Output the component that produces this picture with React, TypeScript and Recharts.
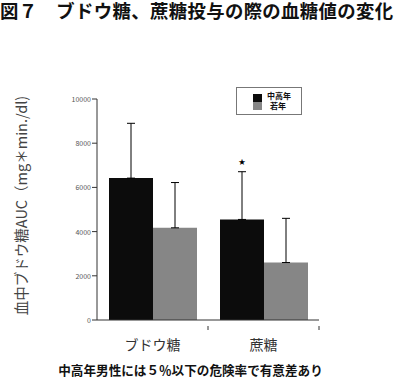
import React from 'react';
import { BarChart, Bar, XAxis, YAxis, ErrorBar, LabelList } from 'recharts';

const categories = ['ブドウ糖', '蔗糖'];
const middleAged = [6420, 4550];
const middleAgedErr = [2480, 2160];
const young = [4170, 2600];
const youngErr = [2050, 2000];
const significance = ['', '★'];
const yTicks = [0, 2000, 4000, 6000, 8000, 10000];
const seriesNames = ['中高年', '若年'];

const data = categories.map((name, i) => ({
  name,
  mid: middleAged[i],
  midErr: [0, middleAgedErr[i]],
  young: young[i],
  youngErr: [0, youngErr[i]],
  sig: significance[i],
}));

const FONT = '"Noto Sans CJK JP", "Noto Sans", sans-serif';
const BLACK = '#0c0c0c';
const GRAY = '#868686';

const XTick = (props: any) => {
  const { x, y, payload, width, visibleTicksCount } = props;
  const off = payload && payload.offset ? payload.offset : width / (2 * visibleTicksCount);
  return (
    <g>
      <line x1={x + off} x2={x + off} y1={y} y2={y + 4} stroke="#333" />
      <text x={x} y={y + 24} textAnchor="middle" fontSize={14} fill="#333" fontFamily={FONT}>
        {payload.value}
      </text>
    </g>
  );
};

const YTick = (props: any) => {
  const { x, y, payload } = props;
  return (
    <text x={x} y={y} textAnchor="end" dominantBaseline="central" fontSize={7} fill="#555" fontFamily={FONT}>
      {payload.value}
    </text>
  );
};

const StarLabel = (props: any) => {
  const { x, y, width, height, value, index } = props;
  if (!value) return null;
  const perUnit = height / middleAged[index];
  const top = y - middleAgedErr[index] * perUnit;
  return (
    <text x={x + width / 2} y={top - 11} textAnchor="middle" dominantBaseline="central" fontSize={7} fill="#000" fontFamily={FONT}>
      {value}
    </text>
  );
};

const YLabel = (props: any) => {
  const vb = props.viewBox || {};
  const cx = vb.x + 20;
  const cy = vb.y + vb.height / 2 - 4;
  return (
    <text x={cx} y={cy} transform={`rotate(-90, ${cx}, ${cy})`} textAnchor="middle" dominantBaseline="central" fontSize={14.5} fill="#444" fontFamily={FONT}>
      血中ブドウ糖AUC（mg＊min./dl)
    </text>
  );
};

export default function App() {
  return (
    <div style={{ position: 'absolute', left: 0, top: 0, width: 400, height: 379, background: '#fff', overflow: 'hidden' }}>
      <div style={{ position: 'absolute', left: 0, top: 0, width: 400, height: 22, fontFamily: FONT, fontSize: 18.4, letterSpacing: 0.35, fontWeight: 700, color: '#111', lineHeight: '21px', whiteSpace: 'nowrap' }}>
        図７　ブドウ糖、蔗糖投与の際の血糖値の変化
      </div>
      <BarChart width={400} height={379} data={data} margin={{ top: 99, right: 81, bottom: 29, left: 0 }} barGap={0} barSize={44}>
        <XAxis dataKey="name" height={30} tickLine={false} tickMargin={0} axisLine={{ stroke: '#333' }} tick={<XTick />} interval={0} />
        <YAxis
          width={97}
          domain={[0, 10000]}
          ticks={yTicks}
          interval={0}
          tickSize={5}
          tickMargin={1}
          stroke="#333"
          tick={<YTick />}
          axisLine={{ stroke: '#333' }}
          tickLine={{ stroke: '#333' }}
          label={<YLabel />}
        />
        <Bar dataKey="mid" name={seriesNames[0]} fill={BLACK} isAnimationActive={false}>
          <ErrorBar dataKey="midErr" width={4} stroke="#000" strokeWidth={1} direction="y" isAnimationActive={false} />
          <LabelList dataKey="sig" content={<StarLabel />} />
        </Bar>
        <Bar dataKey="young" name={seriesNames[1]} fill={GRAY} isAnimationActive={false}>
          <ErrorBar dataKey="youngErr" width={4} stroke="#000" strokeWidth={1} direction="y" isAnimationActive={false} />
        </Bar>
      </BarChart>
      <div style={{ position: 'absolute', left: 236, top: 87, width: 64, height: 26, border: '1px solid #777', background: '#fff' }}>
        <div style={{ position: 'absolute', left: 16, top: 6, width: 9, height: 8, background: BLACK }} />
        <div style={{ position: 'absolute', left: 16, top: 14, width: 9, height: 8, background: GRAY }} />
        <div style={{ position: 'absolute', left: 30, top: 4, fontFamily: FONT, fontSize: 8, fontWeight: 700, lineHeight: '8px', color: '#111', whiteSpace: 'nowrap' }}>{seriesNames[0]}</div>
        <div style={{ position: 'absolute', left: 33, top: 14, fontFamily: FONT, fontSize: 8, fontWeight: 700, lineHeight: '8px', color: '#111', whiteSpace: 'nowrap' }}>{seriesNames[1]}</div>
      </div>
      <div style={{ position: 'absolute', left: 0, top: 363, width: 381, textAlign: 'center', fontFamily: FONT, fontSize: 12.6, fontWeight: 700, lineHeight: '14px', color: '#111', whiteSpace: 'nowrap' }}>
        中高年男性には５％以下の危険率で有意差あり
      </div>
    </div>
  );
}
